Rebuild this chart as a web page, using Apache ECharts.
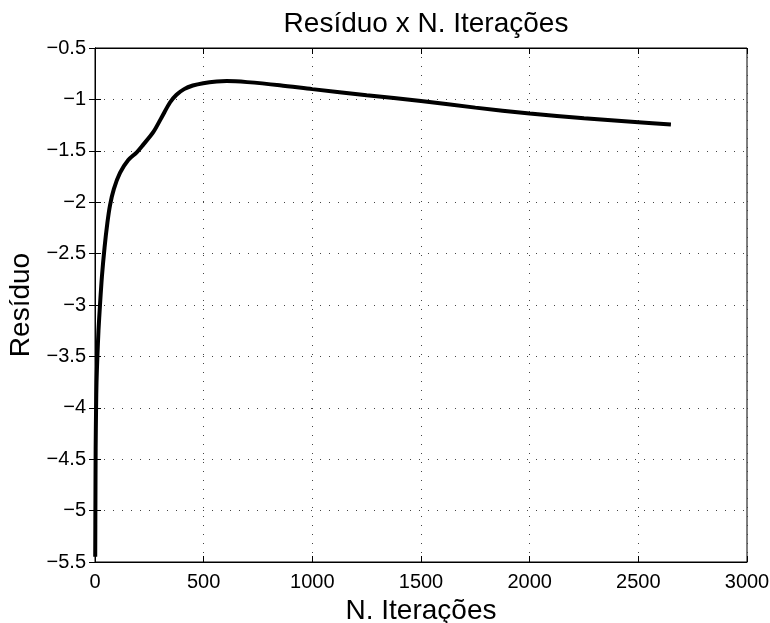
<!DOCTYPE html>
<html><head><meta charset="utf-8">
<script src="https://cdn.jsdelivr.net/npm/echarts@6/dist/echarts.min.js"></script>
<style>html,body{margin:0;padding:0;background:#fff}#c{width:770px;height:623px}</style>
</head><body><div id="c"></div>
<script>
var titleText = 'Resíduo x N. Iterações';
var xName = 'N. Iterações';
var yName = 'Resíduo';
var iterations = [1, 2, 3, 5, 7, 11, 16, 23, 32, 44, 57, 69, 87, 115, 153, 192, 222, 268, 307, 345, 375, 410, 450, 498, 560, 606, 700, 850, 1000, 1250, 1500, 1750, 2000, 2250, 2500, 2650];
var residuo = [-5.45, -4.9, -4.4, -4.0, -3.75, -3.5, -3.25, -3.0, -2.72, -2.44, -2.2, -2.03, -1.87, -1.715, -1.59, -1.515, -1.44, -1.319, -1.173, -1.03, -0.955, -0.9, -0.865, -0.842, -0.826, -0.822, -0.832, -0.862, -0.9, -0.96, -1.015, -1.08, -1.137, -1.183, -1.222, -1.245];
var xTicks = {min: 0, max: 3000, interval: 500};
var yTicks = {min: -5.5, max: -0.5, interval: 0.5};

var font = 'Liberation Sans, Arial, Helvetica, sans-serif';
var fmt = function (v) { return String(+v.toFixed(2)).replace('-', '\u2212'); };
var chart = echarts.init(document.getElementById('c'), null, {renderer: 'canvas'});
var data = iterations.map(function (x, i) { return [x, residuo[i]]; });
var grid = {left: 95, top: 48, right: 23, bottom: 61, show: true, borderColor: '#000', borderWidth: 1,
  containLabel: false, outerBoundsMode: 'none'};
var splitStyle = {show: true, lineStyle: {color: '#444', type: [1, 8], width: 1}};
chart.setOption({
  animation: false,
  backgroundColor: '#fff',
  title: {text: titleText, left: 421, top: 5, textAlign: 'center',
    textStyle: {fontFamily: font, fontSize: 28, fontWeight: 'normal', color: '#000'}},
  grid: grid,
  xAxis: [{
    type: 'value', min: xTicks.min, max: xTicks.max, interval: xTicks.interval,
    name: xName, nameLocation: 'middle', nameGap: 30,
    nameTextStyle: {fontFamily: font, fontSize: 28, color: '#000'},
    axisLine: {show: true, lineStyle: {color: '#000', width: 1}},
    axisTick: {show: true, inside: true, length: 6, lineStyle: {color: '#000'}},
    axisLabel: {fontFamily: font, fontSize: 20, color: '#000', margin: 10, formatter: fmt},
    splitLine: splitStyle
  }, {
    type: 'value', position: 'top', min: xTicks.min, max: xTicks.max, interval: xTicks.interval,
    axisLine: {show: true, lineStyle: {color: '#000'}},
    axisTick: {show: true, inside: true, length: 6, lineStyle: {color: '#000'}},
    axisLabel: {show: false}, splitLine: {show: false}
  }],
  yAxis: [{
    type: 'value', min: yTicks.min, max: yTicks.max, interval: yTicks.interval,
    name: yName, nameLocation: 'middle', nameGap: 52, nameRotate: 90,
    nameTextStyle: {fontFamily: font, fontSize: 28, color: '#000'},
    axisLine: {show: true, lineStyle: {color: '#000', width: 1}},
    axisTick: {show: true, inside: true, length: 6, lineStyle: {color: '#000'}},
    axisLabel: {fontFamily: font, fontSize: 20, color: '#000', margin: 9, formatter: fmt},
    splitLine: splitStyle
  }, {
    type: 'value', position: 'right', min: yTicks.min, max: yTicks.max, interval: yTicks.interval,
    axisLine: {show: true, lineStyle: {color: '#000'}},
    axisTick: {show: true, inside: true, length: 6, lineStyle: {color: '#000'}},
    axisLabel: {show: false}, splitLine: {show: false}
  }],
  series: [{
    type: 'line', data: data, smooth: 0.3, showSymbol: false, symbol: 'none',
    lineStyle: {color: '#000', width: 4}, xAxisIndex: 0, yAxisIndex: 0
  }]
});
</script></body></html>
